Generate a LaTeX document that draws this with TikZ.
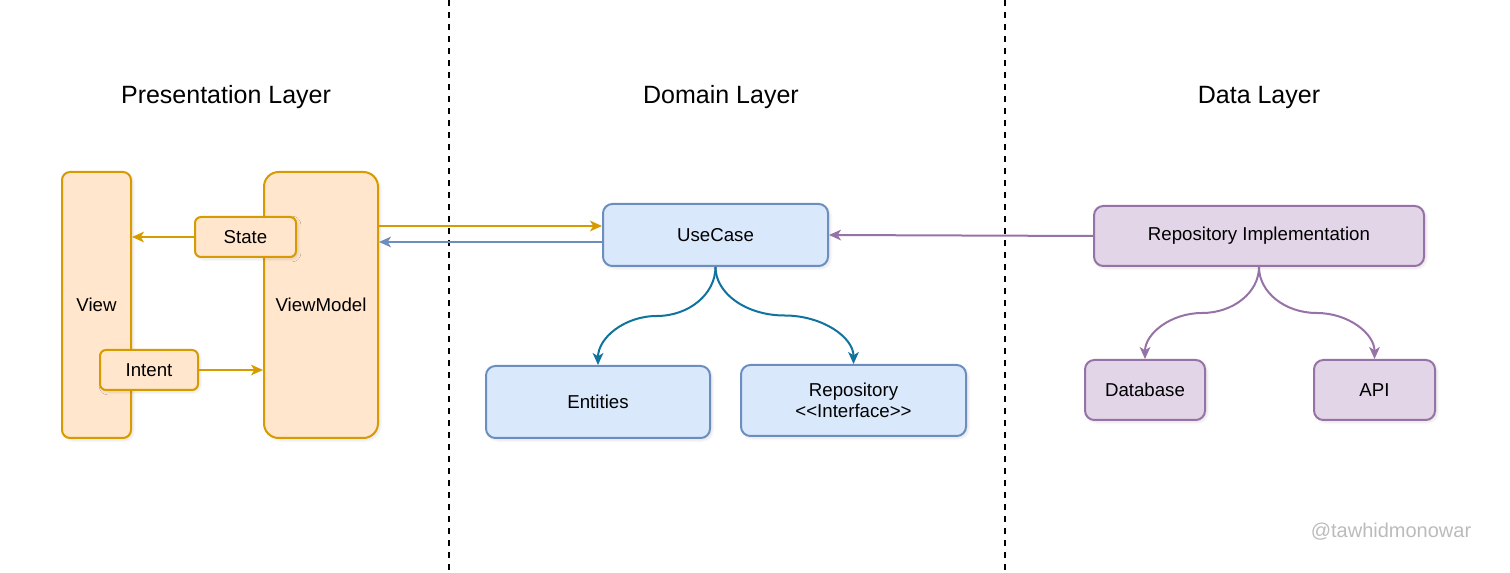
\documentclass[tikz,border=0pt]{standalone}
\usepackage{fontspec}
\setmainfont{Liberation Sans}
\usetikzlibrary{arrows.meta,calc,shadows.blur}

\definecolor{orfill}{HTML}{FFE6CC}
\definecolor{ordraw}{HTML}{D79B00}
\definecolor{blfill}{HTML}{DAE8FC}
\definecolor{bldraw}{HTML}{6C8EBF}
\definecolor{curveblue}{HTML}{10739E}
\definecolor{pufill}{HTML}{E1D5E7}
\definecolor{pudraw}{HTML}{9673A6}
\definecolor{mark}{HTML}{BBBBBB}

\tikzset{
  box/.style={draw, line width=1.5pt, rounded corners=7pt, align=center,
    inner sep=0pt, font=\fontsize{14}{16}\selectfont,
    blur shadow={shadow xshift=1.5pt, shadow yshift=-1.5pt, shadow blur steps=6, shadow opacity=12}},
  orbox/.style={box, fill=orfill, draw=ordraw},
  blbox/.style={box, fill=blfill, draw=bldraw},
  pubox/.style={box, fill=pufill, draw=pudraw},
  conn/.style={line width=1.5pt, -{Stealth[length=9pt,width=8pt,inset=2.5pt]}},
  title/.style={font=\fontsize{18.75}{22}\selectfont, anchor=base},
  divider/.style={line width=1.4pt, dash pattern=on 4.5pt off 4.5pt},
}

\begin{document}
\begin{tikzpicture}[x=0.75pt, y=-0.75pt]
\useasboundingbox (0,0) rectangle (1510,573);

% layer dividers
\coordinate (d1top) at (449,0);
\coordinate (d1bot) at (449,573);
\coordinate (d2top) at (1005,0);
\coordinate (d2bot) at (1005,573);
\draw[divider] (d1top) -- (d1bot);
\draw[divider] (d2top) -- (d2bot);

% layer titles
\node[title] (tpres) at (226,104) {Presentation Layer};
\node[title] (tdom)  at (721,104) {Domain Layer};
\node[title] (tdata) at (1259,104) {Data Layer};

% presentation layer
\node[orbox, rounded corners=6pt, minimum width=51.75pt, minimum height=199.5pt] (view) at (96.5,305) {View};
\node[orbox, rounded corners=11pt, minimum width=85.5pt, minimum height=199.5pt] (vm) at (321,305) {ViewModel};
\node[orbox, rounded corners=4.5pt, minimum width=75.75pt, minimum height=30pt] (state) at (245.5,237) {State};
\node[orbox, rounded corners=4.5pt, minimum width=73.5pt, minimum height=30pt] (intent) at (149,370) {Intent};

% domain layer
\node[blbox, minimum width=168.75pt, minimum height=46.5pt] (uc) at (715.5,235) {UseCase};
\node[blbox, minimum width=168pt, minimum height=54pt] (ent) at (598,402) {Entities};
\node[blbox, minimum width=168.75pt, minimum height=53.25pt] (repoif) at (853.5,400.5)
  {Repository\\\textless\kern0pt\textless Interface\textgreater\kern0pt\textgreater};

% data layer
\node[pubox, minimum width=247.5pt, minimum height=45pt] (rimpl) at (1259,236) {Repository Implementation};
\node[pubox, minimum width=90pt, minimum height=45pt] (db) at (1145,390) {Database};
\node[pubox, minimum width=90.75pt, minimum height=45pt] (api) at (1374.5,390) {API};

% presentation connectors
\draw[conn, draw=ordraw] (state.west) -- (state.west -| view.east);
\draw[conn, draw=ordraw] (intent.east) -- (intent.east -| vm.west);

% viewmodel <-> use case
\coordinate (ucA) at ([yshift=6.75pt]uc.west);
\coordinate (ucB) at ([yshift=-5.25pt]uc.west);
\draw[conn, draw=ordraw] (ucA -| vm.east) -- (ucA);
\draw[conn, draw=bldraw] (ucB) -- (ucB -| vm.east);

% repository implementation -> use case
\draw[conn, draw=pudraw] (rimpl.west) -- (uc.east);

% use case fans out: down, sideways, down
\coordinate (mEnt) at ($(uc.south)!0.5!(ent.north)$);
\coordinate (mRif) at ($(uc.south)!0.5!(repoif.north)$);
\draw[conn, draw=curveblue] (uc.south)
  .. controls ($(uc.south)!0.55!(uc.south |- mEnt)$) and ($(mEnt)!0.55!(uc.south |- mEnt)$) .. (mEnt)
  .. controls ($(mEnt)!0.55!(ent.north |- mEnt)$) and ($(ent.north)!0.55!(ent.north |- mEnt)$) .. (ent.north);
\draw[conn, draw=curveblue] (uc.south)
  .. controls ($(uc.south)!0.55!(uc.south |- mRif)$) and ($(mRif)!0.55!(uc.south |- mRif)$) .. (mRif)
  .. controls ($(mRif)!0.55!(repoif.north |- mRif)$) and ($(repoif.north)!0.55!(repoif.north |- mRif)$) .. (repoif.north);

% repository implementation fans out
\coordinate (mDb) at ($(rimpl.south)!0.5!(db.north)$);
\coordinate (mApi) at ($(rimpl.south)!0.5!(api.north)$);
\draw[conn, draw=pudraw] (rimpl.south)
  .. controls ($(rimpl.south)!0.55!(rimpl.south |- mDb)$) and ($(mDb)!0.55!(rimpl.south |- mDb)$) .. (mDb)
  .. controls ($(mDb)!0.55!(db.north |- mDb)$) and ($(db.north)!0.55!(db.north |- mDb)$) .. (db.north);
\draw[conn, draw=pudraw] (rimpl.south)
  .. controls ($(rimpl.south)!0.55!(rimpl.south |- mApi)$) and ($(mApi)!0.55!(rimpl.south |- mApi)$) .. (mApi)
  .. controls ($(mApi)!0.55!(api.north |- mApi)$) and ($(api.north)!0.55!(api.north |- mApi)$) .. (api.north);

% signature
\node[text=mark, font=\fontsize{15}{18}\selectfont] (sig) at (1391,532) {@tawhidmonowar};
\end{tikzpicture}
\end{document}
